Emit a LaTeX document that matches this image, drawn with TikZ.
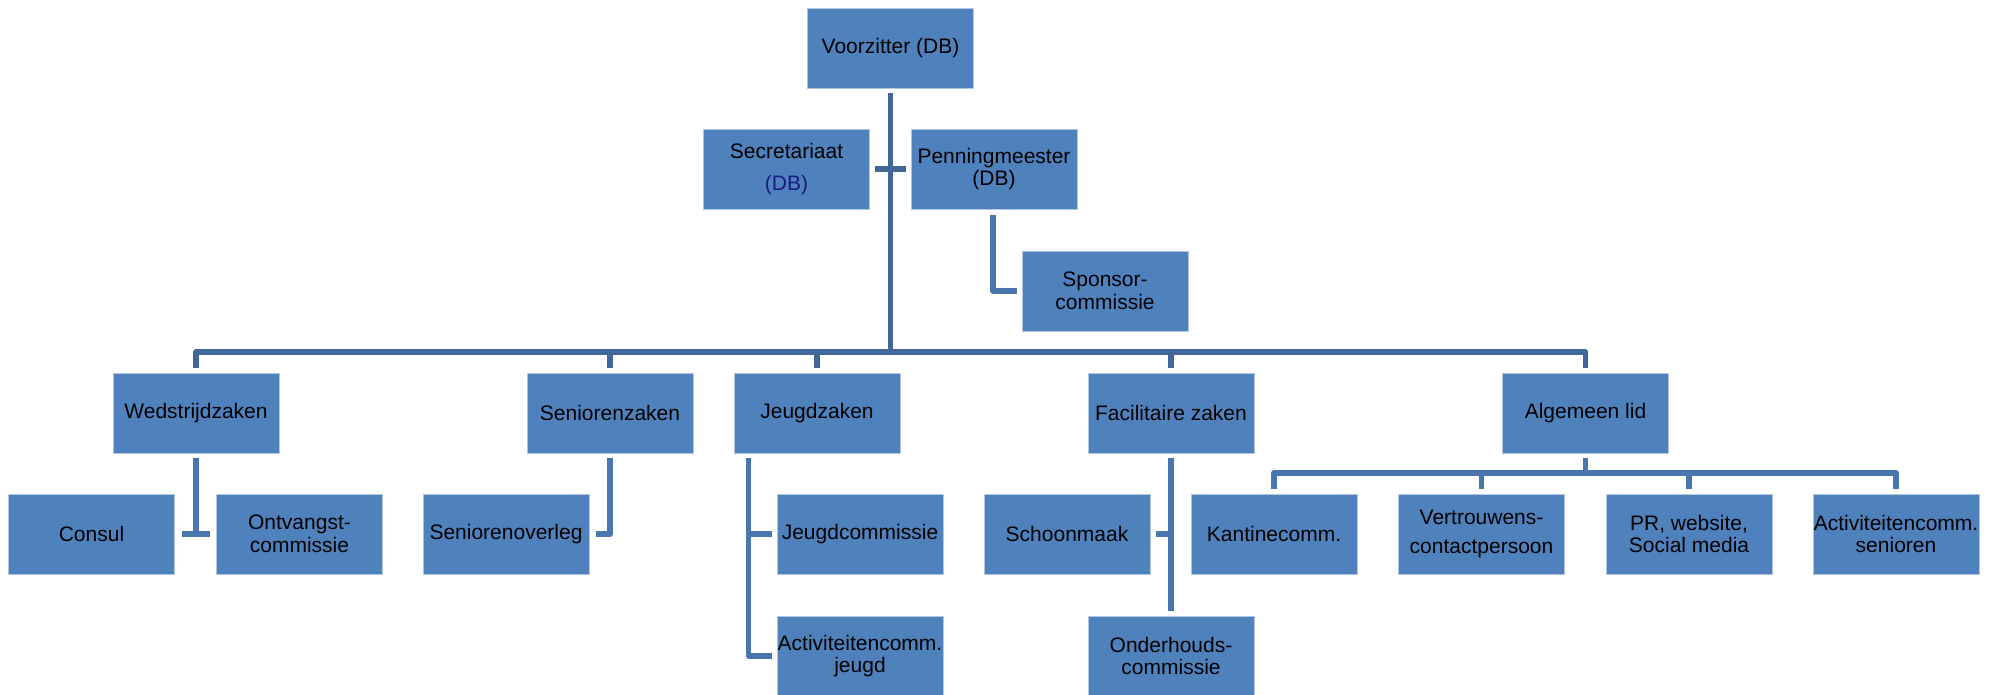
\documentclass[tikz,border=0pt]{standalone}
\usepackage{fontspec}
\setmainfont{Liberation Sans}
\usetikzlibrary{calc}
\definecolor{boxblue}{HTML}{4F81BD}
\definecolor{darkline}{HTML}{41679A}
\definecolor{lightline}{HTML}{4A76AF}
\definecolor{navytext}{HTML}{1A1A80}
\tikzset{
  orgbox/.style={rectangle, fill=boxblue, draw=white!55!boxblue, line width=0.7pt,
    minimum width=166pt, minimum height=80pt, inner sep=0pt, align=center,
    text=black, font=\fontsize{21}{22.5}\selectfont},
  darkconn/.style={draw=darkline, line width=5.6pt, line join=round},
  lightconn/.style={draw=lightline, line width=5.4pt, line join=round}
}
\begin{document}
\begin{tikzpicture}[x=1pt,y=-1pt]
\useasboundingbox (0,0) rectangle (1996,694);
% level 0 and assistants
\node[orgbox] (vz) at (890.5,48) {Voorzitter (DB)};
\node[orgbox] (sec) at (786.5,169) {Secretariaat\\[9pt]{\color{navytext}(DB)}};
\node[orgbox] (pen) at (994,169) {Penningmeester\\(DB)};
\node[orgbox] (spon) at (1105,291) {Sponsor-\\commissie};
% level 1
\node[orgbox] (wed) at (196,413) {Wedstrijdzaken};
\node[orgbox] (sen) at (610,413) {Seniorenzaken};
\node[orgbox] (jeu) at (817,413) {Jeugdzaken};
\node[orgbox] (fac) at (1171,413) {Facilitaire zaken};
\node[orgbox] (alg) at (1585.5,413) {Algemeen lid};
% level 2
\node[orgbox] (consul) at (91.5,534) {Consul};
\node[orgbox] (ont) at (299.5,534) {Ontvangst-\\commissie};
\node[orgbox] (senov) at (506,534) {Seniorenoverleg};
\node[orgbox] (jcom) at (860,534) {Jeugdcommissie};
\node[orgbox] (act) at (860,656) {Activiteitencomm.\\jeugd};
\node[orgbox] (schoon) at (1067,534) {Schoonmaak};
\node[orgbox] (ond) at (1171,656) {Onderhouds-\\commissie};
\node[orgbox] (kan) at (1274,534) {Kantinecomm.};
\node[orgbox] (ver) at (1481.5,534) {Vertrouwens-\\[6pt]contactpersoon};
\node[orgbox] (pr) at (1689,534) {PR, website,\\Social media};
\node[orgbox] (acts) at (1896,534) {Activiteitencomm.\\senioren};
% helper coordinates
\coordinate (bar) at (0,352);
\coordinate (abar) at (0,473);
% main connectors
\draw[darkconn] ([yshift=-5pt]vz.south) -- (vz.south |- bar);
\draw[darkconn] ([yshift=5pt]wed.north) -- (wed.north |- bar) -- (alg.north |- bar) -- ([yshift=5pt]alg.north);
\draw[darkconn] ([yshift=5pt]sen.north) -- (sen.north |- bar);
\draw[darkconn] ([yshift=5pt]jeu.north) -- (jeu.north |- bar);
\draw[darkconn] ([yshift=5pt]fac.north) -- (fac.north |- bar);
\draw[darkconn] ([xshift=5pt]sec.east) -- ([xshift=-5pt]pen.west);
% sub connectors
\draw[lightconn] ([xshift=-1pt,yshift=-6pt]pen.south) |- ([xshift=-5pt]spon.west);
\draw[lightconn] ([yshift=-5pt]wed.south) -- (wed.south |- consul.east);
\draw[lightconn] ([xshift=7pt]consul.east) -- ([xshift=-6pt]ont.west);
\draw[lightconn] ([yshift=-5pt]sen.south) |- ([xshift=7pt]senov.east);
\coordinate (jv) at ([xshift=15pt,yshift=-5pt]jeu.south west);
\draw[lightconn] (jv) |- ([xshift=-5pt]act.west);
\draw[lightconn] (jv |- jcom.west) -- ([xshift=-5pt]jcom.west);
\draw[lightconn] ([yshift=-5pt]fac.south) -- ([yshift=5pt]ond.north);
\draw[lightconn] (fac.south |- schoon.east) -- ([xshift=6pt]schoon.east);
\draw[lightconn] ([yshift=-5pt]alg.south) -- (alg.south |- abar);
\draw[lightconn] ([yshift=5pt]kan.north) -- (kan.north |- abar) -- (acts.north |- abar) -- ([yshift=5pt]acts.north);
\draw[lightconn] ([yshift=5pt]ver.north) -- (ver.north |- abar);
\draw[lightconn] ([yshift=5pt]pr.north) -- (pr.north |- abar);
\end{tikzpicture}
\end{document}
